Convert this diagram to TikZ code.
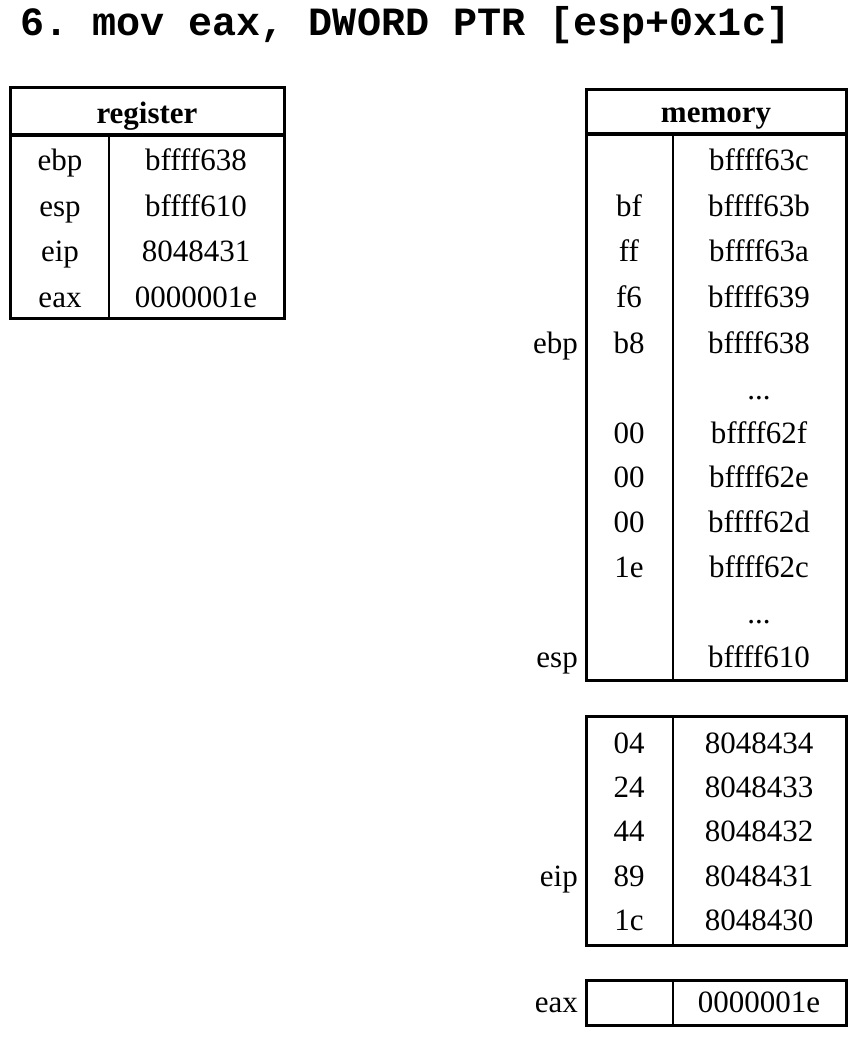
\documentclass[tikz,border=0pt]{standalone}
\usepackage{fontspec}
\setmainfont{Liberation Serif}
\newfontfamily\codefont{Liberation Mono}
\newcommand\tdots{...}
\begin{document}
\frenchspacing
\begin{tikzpicture}[x=1pt,y=-1pt,
  cell/.style={inner sep=0pt, font=\fontsize{31}{36}\selectfont, text height=21pt, text depth=0pt, anchor=center},
  hdr/.style={cell, font=\fontsize{31}{36}\selectfont\bfseries},
  lbl/.style={cell, anchor=east},
  outer/.style={line width=3pt},
  inner/.style={line width=1.6pt}]
\useasboundingbox (0,0) rectangle (858,1038);
\node[anchor=base west, inner sep=0pt, font=\fontsize{40.1}{44}\selectfont\codefont\bfseries] (title) at (20,36) {6. mov eax, DWORD PTR [esp+0x1c]};

% register table
\draw[inner] (109,135) -- (109,318);
\draw[outer] (10,135) -- (284,135);
\draw[outer] (10,88) rectangle (284,318);
\node[hdr] (reghdr) at (147,113) {register};
\foreach \n/\a/\b/\y in {r1/ebp/bffff638/160, r2/esp/bffff610/206, r3/eip/8048431/251, r4/eax/0000001e/297}{
  \node[cell] (\n a) at (60,\y) {\a};
  \node[cell] (\n b) at (196,\y) {\b};
}

% memory table
\draw[inner] (673,134) -- (673,680);
\draw[outer] (586,134) -- (846,134);
\draw[outer] (586,90) rectangle (846,680);
\node[hdr] (memhdr) at (716,112) {memory};
\foreach \n/\a/\b/\y in {m1//bffff63c/160, m2/bf/bffff63b/206, m3/ff/bffff63a/251, m4/f6/bffff639/297, m5/b8/bffff638/343, m6//\tdots/389, m7/00/bffff62f/433, m8/00/bffff62e/477, m9/00/bffff62d/522, m10/1e/bffff62c/567, m11//\tdots/613, m12//bffff610/657}{
  \node[cell] (\n a) at (629,\y) {\a};
  \node[cell] (\n b) at (759,\y) {\b};
}
\node[lbl] (lebp) at (578,343) {ebp};
\node[lbl] (lesp) at (578,657) {esp};

% code table
\draw[inner] (673,716) -- (673,945);
\draw[outer] (586,716) rectangle (846,945);
\foreach \n/\a/\b/\y in {c1/04/8048434/743, c2/24/8048433/787, c3/44/8048432/831, c4/89/8048431/876, c5/1c/8048430/920}{
  \node[cell] (\n a) at (629,\y) {\a};
  \node[cell] (\n b) at (759,\y) {\b};
}
\node[lbl] (leip) at (578,876) {eip};

% eax box
\draw[inner] (673,980) -- (673,1025);
\draw[outer] (586,980) rectangle (846,1025);
\node[cell] (eaxb) at (759,1002) {0000001e};
\node[lbl] (leax) at (578,1002) {eax};
\end{tikzpicture}
\end{document}
